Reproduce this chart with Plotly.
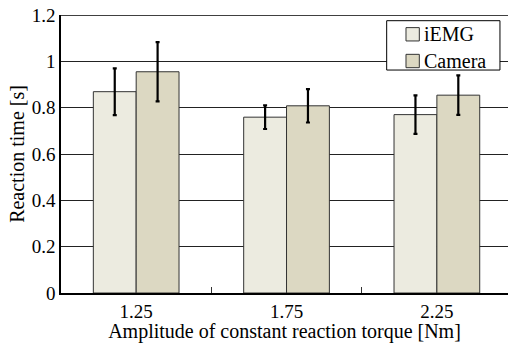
import plotly.graph_objects as go

categories = ["1.25", "1.75", "2.25"]
series_names = ["iEMG", "Camera"]
iemg = [0.869, 0.759, 0.770]
iemg_err = [0.101, 0.051, 0.083]
camera = [0.955, 0.808, 0.854]
camera_err = [0.128, 0.072, 0.085]
colors = ["#ecebe0", "#dcd8c2"]

ff = "'Times New Roman', 'Liberation Serif', serif"

fig = go.Figure()
for name, vals, errs, col in zip(series_names, [iemg, camera], [iemg_err, camera_err], colors):
    fig.add_trace(go.Bar(
        x=categories, y=vals, name=name,
        marker=dict(color=col, line=dict(color="#333333", width=1)),
        error_y=dict(type="data", array=errs, color="black", thickness=2.2, width=2),
    ))

fig.update_layout(
    width=508, height=343,
    margin=dict(l=61, r=0, t=15, b=50),
    paper_bgcolor="white", plot_bgcolor="white",
    font=dict(family=ff, size=19, color="black"),
    barmode="group", bargap=0.43, bargroupgap=0,
    showlegend=False,
    xaxis=dict(
        type="category", range=[-0.5, 2.473],
        tickson="boundaries", ticks="inside", ticklen=6, tickcolor="#333",
        showline=True, linecolor="black", linewidth=1.5,
        showgrid=False,
        title=dict(text="Amplitude of constant reaction torque [Nm]", standoff=0,
                   font=dict(family=ff, size=20, color="black")),
        tickfont=dict(family=ff, size=19, color="black"),
    ),
    yaxis=dict(
        range=[0, 1.2],
        tickvals=[0, 0.2, 0.4, 0.6, 0.8, 1.0, 1.2],
        ticktext=["0", "0.2", "0.4", "0.6", "0.8", "1", "1.2"],
        showline=True, linecolor="black", linewidth=1.5,
        showgrid=True, gridcolor="#222222", gridwidth=1,
        zeroline=False, ticks="", ticklen=0,
        title=dict(text="Reaction time [s]", standoff=2,
                   font=dict(family=ff, size=20, color="black")),
        tickfont=dict(family=ff, size=19, color="black"),
    ),
)
fig.add_shape(type="line", xref="paper", yref="y", x0=0, x1=1, y0=1.2, y1=1.2,
              line=dict(color="black", width=1.5), layer="above")

# legend box drawn manually
fig.add_shape(type="rect", xref="paper", yref="paper", x0=0.7286, x1=0.982, y0=0.802, y1=0.9795,
              line=dict(color="black", width=1), fillcolor="white", layer="above")
legend_y = [0.9306, 0.8345]
for name, col, ly in zip(series_names, colors, legend_y):
    fig.add_shape(type="rect", xref="paper", yref="paper", x0=0.7718, x1=0.8016,
                  y0=ly - 0.024, y1=ly + 0.024,
                  line=dict(color="#333333", width=1), fillcolor=col, layer="above")
    fig.add_annotation(xref="paper", yref="paper", x=0.8066, y=ly, text=name,
                       showarrow=False, xanchor="left", yanchor="middle",
                       font=dict(family=ff, size=20, color="black"))

fig.write_html("out.html")
